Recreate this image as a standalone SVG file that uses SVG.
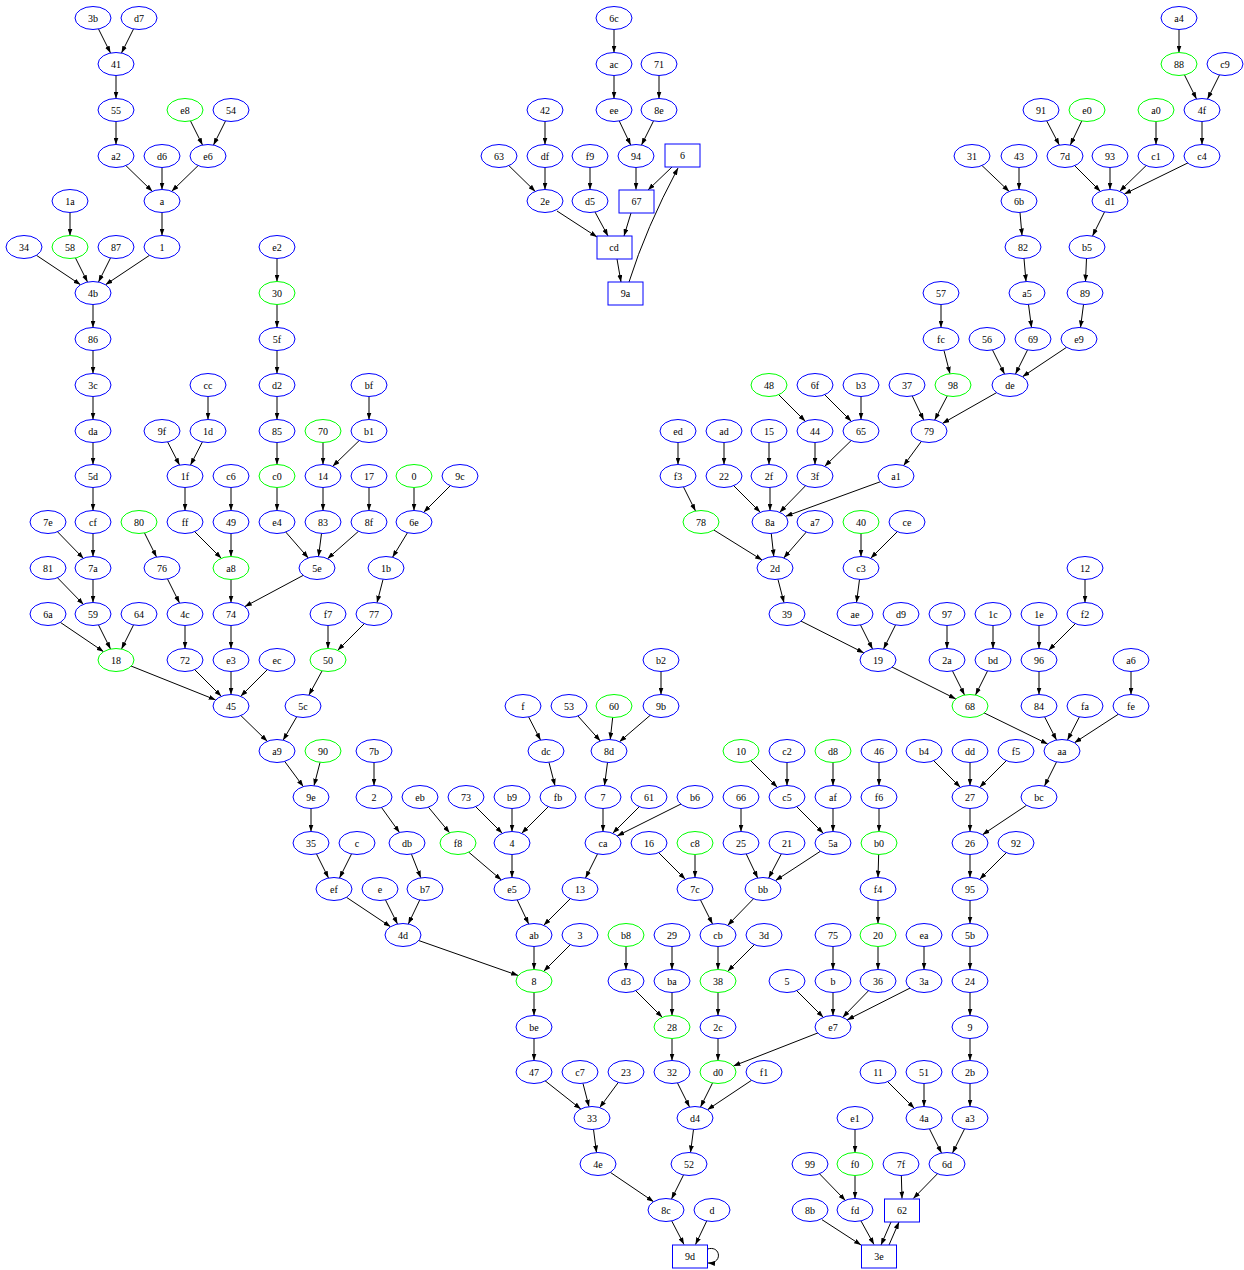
<svg xmlns="http://www.w3.org/2000/svg" width="1244" height="1270" viewBox="0 0 1244 1270">
<style>
.b ellipse,.b rect{fill:#fff;stroke:#0000ff;stroke-width:1}
.g ellipse{fill:#fff;stroke:#00ff00;stroke-width:1}
text{font-family:"Liberation Serif",serif;font-size:10px;text-anchor:middle;fill:#000}
.e path{fill:none;stroke:#000;stroke-width:1;marker-end:url(#ah)}
</style>
<defs>
<marker id="ah" markerUnits="userSpaceOnUse" markerWidth="7" markerHeight="5" viewBox="0 0 7 5" refX="7" refY="2.5" orient="auto"><path d="M0,0 L7,2.5 L0,5 z" fill="#000"/></marker>
</defs>
<rect width="1244" height="1270" fill="#fff"/>
<g id="edges" class="e">
<path d="M93 18 L110.5 53"/><path d="M139 18 L121.5 53"/><path d="M116 64 L116 98.5"/><path d="M116 110 L116 144.5"/>
<path d="M185 110 L202.5 145"/><path d="M231 110 L213.5 145"/><path d="M116 156 L152.3 191.3"/><path d="M162 156 L162 189.5"/>
<path d="M208 156 L171.7 191.3"/><path d="M162 201 L162 235.5"/><path d="M70 201 L70 235.5"/><path d="M24 247 L80.5 284.7"/>
<path d="M70 247 L87.5 282"/><path d="M116 247 L98.5 282"/><path d="M162 247 L105.5 284.7"/><path d="M93 293 L93 327.5"/>
<path d="M93 339 L93 373.5"/><path d="M93 385 L93 419.5"/><path d="M93 431 L93 464.5"/><path d="M93 476 L93 510.5"/>
<path d="M93 522 L93 556.5"/><path d="M48 522 L83.5 558.5"/><path d="M93 568 L93 602.5"/><path d="M48 568 L83.5 604.5"/>
<path d="M48 614 L103.6 651.7"/><path d="M93 614 L110.5 649"/><path d="M139 614 L121.5 649"/><path d="M116 660 L215.7 699.9"/>
<path d="M277 247 L277 281.5"/><path d="M277 293 L277 327.5"/><path d="M277 339 L277 373.5"/><path d="M277 385 L277 419.5"/>
<path d="M277 431 L277 464.5"/><path d="M277 476 L277 510.5"/><path d="M277 522 L308.3 558"/><path d="M208 385 L208 419.5"/>
<path d="M162 431 L179.5 465"/><path d="M208 431 L190.5 465"/><path d="M185 476 L185 510.5"/><path d="M185 522 L221.3 558.3"/>
<path d="M231 476 L231 510.5"/><path d="M231 522 L231 556.5"/><path d="M231 568 L231 602.5"/><path d="M317 568 L244.8 606.6"/>
<path d="M231 614 L231 648.5"/><path d="M231 660 L231 694.5"/><path d="M185 660 L221.3 696.3"/><path d="M277 660 L240.7 696.3"/>
<path d="M139 522 L156.5 557"/><path d="M162 568 L179.5 603"/><path d="M185 614 L185 648.5"/><path d="M369 385 L369 419.5"/>
<path d="M369 431 L332.7 466.3"/><path d="M323 431 L323 464.5"/><path d="M323 476 L323 510.5"/><path d="M323 522 L318.5 556.5"/>
<path d="M369 476 L369 510.5"/><path d="M369 522 L327.5 558.7"/><path d="M414 476 L414 510.5"/><path d="M460 476 L423.7 512.3"/>
<path d="M414 522 L392.5 557.3"/><path d="M386 568 L377 602.7"/><path d="M374 614 L337.7 650.3"/><path d="M328 614 L328 648.5"/>
<path d="M328 660 L308.9 695.1"/><path d="M303 706 L283.1 740.2"/><path d="M231 706 L267.3 741.3"/><path d="M277 751 L303.3 786.6"/>
<path d="M323 751 L314 785.7"/><path d="M311 797 L311 831.5"/><path d="M311 843 L328.5 878"/><path d="M357 843 L339.5 878"/>
<path d="M374 751 L374 785.5"/><path d="M374 797 L399.5 832.6"/><path d="M407 843 L420.8 877.8"/><path d="M334 889 L390.5 926.7"/>
<path d="M380 889 L397.5 924"/><path d="M425 889 L408.3 924"/><path d="M403 935 L518.2 975.5"/><path d="M420 797 L449.6 832.8"/>
<path d="M458 843 L501.3 879.9"/><path d="M466 797 L502.3 833.3"/><path d="M512 797 L512 831.5"/><path d="M558 797 L521.7 833.3"/>
<path d="M523 706 L540.5 740"/><path d="M546 751 L555 785.7"/><path d="M512 843 L512 877.5"/><path d="M512 889 L528.7 924"/>
<path d="M580 889 L543.7 925.3"/><path d="M534 935 L534 969.5"/><path d="M580 935 L543.7 971.3"/><path d="M534 981 L534 1015.5"/>
<path d="M534 1027 L534 1060.5"/><path d="M534 1072 L580.8 1109"/><path d="M580 1072 L589 1106.7"/><path d="M626 1072 L599.7 1107.6"/>
<path d="M592 1118 L596.5 1152.5"/><path d="M598 1164 L653.6 1201.7"/><path d="M569 706 L600.3 741"/><path d="M614 706 L610.2 739.5"/>
<path d="M661 706 L619.5 741.7"/><path d="M661 660 L661 694.5"/><path d="M609 751 L604.5 785.5"/><path d="M603 797 L603 831.5"/>
<path d="M649 797 L612.7 833.3"/><path d="M695 797 L617.2 835.9"/><path d="M603 843 L585.5 878"/>
<path d="M614 18 L614 52.5"/><path d="M614 64 L614 98.5"/><path d="M614 110 L630.7 145"/><path d="M659 64 L659 98.5"/>
<path d="M659 110 L641.5 145"/><path d="M636 156 L636 189.5"/><path d="M672 167 L648 190"/><path d="M631 213 L624 236"/>
<path d="M545 110 L545 144.5"/><path d="M545 156 L545 189.5"/><path d="M499 156 L535.3 191.5"/><path d="M590 156 L590 189.5"/>
<path d="M557 211 L597 237"/><path d="M595 212 L608 236"/><path d="M617 259 L621 282"/><path d="M629 282 Q646 228 678 168"/>
<path d="M1179 18 L1179 52.5"/><path d="M1179 64 L1196.5 99"/><path d="M1225 64 L1207.5 99"/><path d="M1202 110 L1202 144.5"/>
<path d="M1041 110 L1059.3 145"/><path d="M1087 110 L1070.3 145"/><path d="M1156 110 L1156 144.5"/><path d="M1065 156 L1100.4 191.4"/>
<path d="M1110 156 L1110 189.5"/><path d="M1156 156 L1119.7 191.3"/><path d="M1202 156 L1124.3 194"/><path d="M972 156 L1009.2 191.5"/>
<path d="M1019 156 L1019 189.5"/><path d="M1019 201 L1022 235.5"/><path d="M1023 247 L1026 281.5"/><path d="M1027 293 L1031.5 327.5"/>
<path d="M1110 201 L1092.5 236"/><path d="M1087 247 L1085.5 281.5"/><path d="M1085 293 L1080.5 327.5"/><path d="M987 339 L1004.5 374"/>
<path d="M1033 339 L1015.5 374"/><path d="M1079 339 L1022.5 376.7"/><path d="M941 293 L941 327.5"/><path d="M941 339 L950 373.7"/>
<path d="M907 385 L923.7 420"/><path d="M953 385 L934.7 420"/><path d="M1010 385 L942.4 423.4"/><path d="M929 431 L903.6 465.6"/>
<path d="M769 385 L805.3 421.3"/><path d="M815 431 L815 464.5"/><path d="M815 385 L851.3 421.3"/><path d="M861 385 L861 419.5"/>
<path d="M861 431 L824.7 466.3"/><path d="M678 431 L678 464.5"/><path d="M724 431 L724 464.5"/><path d="M769 431 L769 464.5"/>
<path d="M678 476 L695.5 511"/><path d="M724 476 L760.3 512.3"/><path d="M770 476 L770 510.5"/><path d="M815 476 L779.6 512.4"/>
<path d="M896 476 L785.6 516.3"/><path d="M701 522 L762.1 560"/><path d="M770 522 L773.8 556.5"/><path d="M815 522 L783.7 558"/>
<path d="M775 568 L784 602.7"/><path d="M861 522 L861 556.5"/><path d="M907 522 L870.7 558.3"/><path d="M861 568 L856.5 602.5"/>
<path d="M787 614 L863.9 652.9"/><path d="M855 614 L872.5 649"/><path d="M901 614 L883.5 649"/><path d="M878 660 L955.8 698.9"/>
<path d="M947 614 L947 648.5"/><path d="M993 614 L993 648.5"/><path d="M947 660 L964.5 695"/><path d="M993 660 L975.5 695"/>
<path d="M1039 614 L1039 648.5"/><path d="M1085 568 L1085 602.5"/><path d="M1085 614 L1048.7 650.3"/><path d="M1039 660 L1039 694.5"/>
<path d="M1131 660 L1131 694.5"/><path d="M970 706 L1047.7 744"/><path d="M1039 706 L1056.5 740"/><path d="M1085 706 L1067.5 740"/>
<path d="M1131 706 L1074.5 742.7"/><path d="M1062 751 L1044.5 786"/><path d="M924 751 L960.3 787.3"/><path d="M970 751 L970 785.5"/>
<path d="M1016 751 L979.7 787.3"/><path d="M970 797 L970 831.5"/><path d="M1039 797 L982.5 834.7"/><path d="M970 843 L970 877.5"/>
<path d="M1016 843 L979.7 879.3"/><path d="M970 889 L970 923.5"/><path d="M970 935 L970 969.5"/><path d="M970 981 L970 1015.5"/>
<path d="M970 1027 L970 1060.5"/><path d="M970 1072 L970 1106.5"/><path d="M970 1118 L952.5 1153"/><path d="M878 1072 L914.3 1108.3"/>
<path d="M924 1072 L924 1106.5"/><path d="M924 1118 L941.5 1153"/><path d="M947 1164 L913.3 1198.5"/><path d="M901 1164 L902 1198.5"/>
<path d="M855 1118 L855 1152.5"/><path d="M855 1164 L855 1198.5"/><path d="M810 1164 L845.4 1200.5"/><path d="M861 1221 L874 1244.5"/>
<path d="M822 1219.7 L861 1245"/><path d="M891 1222 L881 1245"/><path d="M889 1245 L899 1222"/>
<path d="M741 751 L777.3 787.3"/><path d="M787 751 L787 785.5"/><path d="M787 797 L823.3 833.3"/><path d="M833 751 L833 785.5"/>
<path d="M833 797 L833 831.5"/><path d="M879 751 L879 785.5"/><path d="M879 797 L879 831.5"/><path d="M879 843 L878 877.5"/>
<path d="M878 889 L878 923.5"/><path d="M878 935 L878 969.5"/><path d="M649 843 L685.3 879.3"/><path d="M695 843 L695 877.5"/>
<path d="M741 797 L741 831.5"/><path d="M741 843 L757.7 878"/><path d="M787 843 L768.7 878"/><path d="M833 843 L775.5 880.6"/>
<path d="M695 889 L712.5 924"/><path d="M763 889 L727.6 925.4"/><path d="M718 935 L718 969.5"/><path d="M764 935 L727.7 971.3"/>
<path d="M718 981 L718 1015.5"/><path d="M718 1027 L718 1060.5"/><path d="M626 935 L626 969.5"/><path d="M672 935 L672 969.5"/>
<path d="M626 981 L662.3 1017.3"/><path d="M672 981 L672 1015.5"/><path d="M672 1027 L672 1060.5"/><path d="M833 935 L833 969.5"/>
<path d="M787 981 L823.3 1017.3"/><path d="M833 981 L833 1015.5"/><path d="M878 981 L842.6 1017.4"/><path d="M924 935 L924 969.5"/>
<path d="M924 981 L847.1 1019.9"/><path d="M833 1027 L733.4 1066"/><path d="M672 1072 L689.5 1107"/><path d="M718 1072 L700.5 1107"/>
<path d="M764 1072 L707.5 1109.7"/><path d="M695 1118 L690.5 1152.5"/><path d="M689 1164 L671.5 1199"/><path d="M666 1210 L684 1244.5"/>
<path d="M712 1210 L695.5 1244.5"/><path d="M707.5 1249 C721 1245 723 1264 708 1263"/>
</g>
<g id="nodes">
<g id="n_3b" class="b"><ellipse cx="93" cy="18" rx="18" ry="11.5"/><text x="93" y="21.5">3b</text></g>
<g id="n_d7" class="b"><ellipse cx="139" cy="18" rx="18" ry="11.5"/><text x="139" y="21.5">d7</text></g>
<g id="n_6c" class="b"><ellipse cx="614" cy="18" rx="18" ry="11.5"/><text x="614" y="21.5">6c</text></g>
<g id="n_a4" class="b"><ellipse cx="1179" cy="18" rx="18" ry="11.5"/><text x="1179" y="21.5">a4</text></g>
<g id="n_41" class="b"><ellipse cx="116" cy="64" rx="18" ry="11.5"/><text x="116" y="67.5">41</text></g>
<g id="n_ac" class="b"><ellipse cx="614" cy="64" rx="18" ry="11.5"/><text x="614" y="67.5">ac</text></g>
<g id="n_71" class="b"><ellipse cx="659" cy="64" rx="18" ry="11.5"/><text x="659" y="67.5">71</text></g>
<g id="n_88" class="g"><ellipse cx="1179" cy="64" rx="18" ry="11.5"/><text x="1179" y="67.5">88</text></g>
<g id="n_c9" class="b"><ellipse cx="1225" cy="64" rx="18" ry="11.5"/><text x="1225" y="67.5">c9</text></g>
<g id="n_55" class="b"><ellipse cx="116" cy="110" rx="18" ry="11.5"/><text x="116" y="113.5">55</text></g>
<g id="n_e8" class="g"><ellipse cx="185" cy="110" rx="18" ry="11.5"/><text x="185" y="113.5">e8</text></g>
<g id="n_54" class="b"><ellipse cx="231" cy="110" rx="18" ry="11.5"/><text x="231" y="113.5">54</text></g>
<g id="n_42" class="b"><ellipse cx="545" cy="110" rx="18" ry="11.5"/><text x="545" y="113.5">42</text></g>
<g id="n_ee" class="b"><ellipse cx="614" cy="110" rx="18" ry="11.5"/><text x="614" y="113.5">ee</text></g>
<g id="n_8e" class="b"><ellipse cx="659" cy="110" rx="18" ry="11.5"/><text x="659" y="113.5">8e</text></g>
<g id="n_91" class="b"><ellipse cx="1041" cy="110" rx="18" ry="11.5"/><text x="1041" y="113.5">91</text></g>
<g id="n_e0" class="g"><ellipse cx="1087" cy="110" rx="18" ry="11.5"/><text x="1087" y="113.5">e0</text></g>
<g id="n_a0" class="g"><ellipse cx="1156" cy="110" rx="18" ry="11.5"/><text x="1156" y="113.5">a0</text></g>
<g id="n_4f" class="b"><ellipse cx="1202" cy="110" rx="18" ry="11.5"/><text x="1202" y="113.5">4f</text></g>
<g id="n_a2" class="b"><ellipse cx="116" cy="156" rx="18" ry="11.5"/><text x="116" y="159.5">a2</text></g>
<g id="n_d6" class="b"><ellipse cx="162" cy="156" rx="18" ry="11.5"/><text x="162" y="159.5">d6</text></g>
<g id="n_e6" class="b"><ellipse cx="208" cy="156" rx="18" ry="11.5"/><text x="208" y="159.5">e6</text></g>
<g id="n_63" class="b"><ellipse cx="499" cy="156" rx="18" ry="11.5"/><text x="499" y="159.5">63</text></g>
<g id="n_df" class="b"><ellipse cx="545" cy="156" rx="18" ry="11.5"/><text x="545" y="159.5">df</text></g>
<g id="n_f9" class="b"><ellipse cx="590" cy="156" rx="18" ry="11.5"/><text x="590" y="159.5">f9</text></g>
<g id="n_94" class="b"><ellipse cx="636" cy="156" rx="18" ry="11.5"/><text x="636" y="159.5">94</text></g>
<g id="n_6" class="b"><rect x="665" y="144" width="35" height="23"/><text x="682.5" y="159">6</text></g>
<g id="n_31" class="b"><ellipse cx="972" cy="156" rx="18" ry="11.5"/><text x="972" y="159.5">31</text></g>
<g id="n_43" class="b"><ellipse cx="1019" cy="156" rx="18" ry="11.5"/><text x="1019" y="159.5">43</text></g>
<g id="n_7d" class="b"><ellipse cx="1065" cy="156" rx="18" ry="11.5"/><text x="1065" y="159.5">7d</text></g>
<g id="n_93" class="b"><ellipse cx="1110" cy="156" rx="18" ry="11.5"/><text x="1110" y="159.5">93</text></g>
<g id="n_c1" class="b"><ellipse cx="1156" cy="156" rx="18" ry="11.5"/><text x="1156" y="159.5">c1</text></g>
<g id="n_c4" class="b"><ellipse cx="1202" cy="156" rx="18" ry="11.5"/><text x="1202" y="159.5">c4</text></g>
<g id="n_1a" class="b"><ellipse cx="70" cy="201" rx="18" ry="11.5"/><text x="70" y="204.5">1a</text></g>
<g id="n_a" class="b"><ellipse cx="162" cy="201" rx="18" ry="11.5"/><text x="162" y="204.5">a</text></g>
<g id="n_2e" class="b"><ellipse cx="545" cy="201" rx="18" ry="11.5"/><text x="545" y="204.5">2e</text></g>
<g id="n_d5" class="b"><ellipse cx="590" cy="201" rx="18" ry="11.5"/><text x="590" y="204.5">d5</text></g>
<g id="n_67" class="b"><rect x="619" y="190" width="35" height="23"/><text x="636.5" y="205">67</text></g>
<g id="n_6b" class="b"><ellipse cx="1019" cy="201" rx="18" ry="11.5"/><text x="1019" y="204.5">6b</text></g>
<g id="n_d1" class="b"><ellipse cx="1110" cy="201" rx="18" ry="11.5"/><text x="1110" y="204.5">d1</text></g>
<g id="n_34" class="b"><ellipse cx="24" cy="247" rx="18" ry="11.5"/><text x="24" y="250.5">34</text></g>
<g id="n_58" class="g"><ellipse cx="70" cy="247" rx="18" ry="11.5"/><text x="70" y="250.5">58</text></g>
<g id="n_87" class="b"><ellipse cx="116" cy="247" rx="18" ry="11.5"/><text x="116" y="250.5">87</text></g>
<g id="n_1" class="b"><ellipse cx="162" cy="247" rx="18" ry="11.5"/><text x="162" y="250.5">1</text></g>
<g id="n_e2" class="b"><ellipse cx="277" cy="247" rx="18" ry="11.5"/><text x="277" y="250.5">e2</text></g>
<g id="n_cd" class="b"><rect x="597" y="236" width="35" height="23"/><text x="614" y="251">cd</text></g>
<g id="n_82" class="b"><ellipse cx="1023" cy="247" rx="18" ry="11.5"/><text x="1023" y="250.5">82</text></g>
<g id="n_b5" class="b"><ellipse cx="1087" cy="247" rx="18" ry="11.5"/><text x="1087" y="250.5">b5</text></g>
<g id="n_4b" class="b"><ellipse cx="93" cy="293" rx="18" ry="11.5"/><text x="93" y="296.5">4b</text></g>
<g id="n_30" class="g"><ellipse cx="277" cy="293" rx="18" ry="11.5"/><text x="277" y="296.5">30</text></g>
<g id="n_9a" class="b"><rect x="608" y="282" width="35" height="23"/><text x="625.5" y="297">9a</text></g>
<g id="n_57" class="b"><ellipse cx="941" cy="293" rx="18" ry="11.5"/><text x="941" y="296.5">57</text></g>
<g id="n_a5" class="b"><ellipse cx="1027" cy="293" rx="18" ry="11.5"/><text x="1027" y="296.5">a5</text></g>
<g id="n_89" class="b"><ellipse cx="1085" cy="293" rx="18" ry="11.5"/><text x="1085" y="296.5">89</text></g>
<g id="n_86" class="b"><ellipse cx="93" cy="339" rx="18" ry="11.5"/><text x="93" y="342.5">86</text></g>
<g id="n_5f" class="b"><ellipse cx="277" cy="339" rx="18" ry="11.5"/><text x="277" y="342.5">5f</text></g>
<g id="n_fc" class="b"><ellipse cx="941" cy="339" rx="18" ry="11.5"/><text x="941" y="342.5">fc</text></g>
<g id="n_56" class="b"><ellipse cx="987" cy="339" rx="18" ry="11.5"/><text x="987" y="342.5">56</text></g>
<g id="n_69" class="b"><ellipse cx="1033" cy="339" rx="18" ry="11.5"/><text x="1033" y="342.5">69</text></g>
<g id="n_e9" class="b"><ellipse cx="1079" cy="339" rx="18" ry="11.5"/><text x="1079" y="342.5">e9</text></g>
<g id="n_3c" class="b"><ellipse cx="93" cy="385" rx="18" ry="11.5"/><text x="93" y="388.5">3c</text></g>
<g id="n_cc" class="b"><ellipse cx="208" cy="385" rx="18" ry="11.5"/><text x="208" y="388.5">cc</text></g>
<g id="n_d2" class="b"><ellipse cx="277" cy="385" rx="18" ry="11.5"/><text x="277" y="388.5">d2</text></g>
<g id="n_bf" class="b"><ellipse cx="369" cy="385" rx="18" ry="11.5"/><text x="369" y="388.5">bf</text></g>
<g id="n_48" class="g"><ellipse cx="769" cy="385" rx="18" ry="11.5"/><text x="769" y="388.5">48</text></g>
<g id="n_6f" class="b"><ellipse cx="815" cy="385" rx="18" ry="11.5"/><text x="815" y="388.5">6f</text></g>
<g id="n_b3" class="b"><ellipse cx="861" cy="385" rx="18" ry="11.5"/><text x="861" y="388.5">b3</text></g>
<g id="n_37" class="b"><ellipse cx="907" cy="385" rx="18" ry="11.5"/><text x="907" y="388.5">37</text></g>
<g id="n_98" class="g"><ellipse cx="953" cy="385" rx="18" ry="11.5"/><text x="953" y="388.5">98</text></g>
<g id="n_de" class="b"><ellipse cx="1010" cy="385" rx="18" ry="11.5"/><text x="1010" y="388.5">de</text></g>
<g id="n_da" class="b"><ellipse cx="93" cy="431" rx="18" ry="11.5"/><text x="93" y="434.5">da</text></g>
<g id="n_9f" class="b"><ellipse cx="162" cy="431" rx="18" ry="11.5"/><text x="162" y="434.5">9f</text></g>
<g id="n_1d" class="b"><ellipse cx="208" cy="431" rx="18" ry="11.5"/><text x="208" y="434.5">1d</text></g>
<g id="n_85" class="b"><ellipse cx="277" cy="431" rx="18" ry="11.5"/><text x="277" y="434.5">85</text></g>
<g id="n_70" class="g"><ellipse cx="323" cy="431" rx="18" ry="11.5"/><text x="323" y="434.5">70</text></g>
<g id="n_b1" class="b"><ellipse cx="369" cy="431" rx="18" ry="11.5"/><text x="369" y="434.5">b1</text></g>
<g id="n_ed" class="b"><ellipse cx="678" cy="431" rx="18" ry="11.5"/><text x="678" y="434.5">ed</text></g>
<g id="n_ad" class="b"><ellipse cx="724" cy="431" rx="18" ry="11.5"/><text x="724" y="434.5">ad</text></g>
<g id="n_15" class="b"><ellipse cx="769" cy="431" rx="18" ry="11.5"/><text x="769" y="434.5">15</text></g>
<g id="n_44" class="b"><ellipse cx="815" cy="431" rx="18" ry="11.5"/><text x="815" y="434.5">44</text></g>
<g id="n_65" class="b"><ellipse cx="861" cy="431" rx="18" ry="11.5"/><text x="861" y="434.5">65</text></g>
<g id="n_79" class="b"><ellipse cx="929" cy="431" rx="18" ry="11.5"/><text x="929" y="434.5">79</text></g>
<g id="n_5d" class="b"><ellipse cx="93" cy="476" rx="18" ry="11.5"/><text x="93" y="479.5">5d</text></g>
<g id="n_1f" class="b"><ellipse cx="185" cy="476" rx="18" ry="11.5"/><text x="185" y="479.5">1f</text></g>
<g id="n_c6" class="b"><ellipse cx="231" cy="476" rx="18" ry="11.5"/><text x="231" y="479.5">c6</text></g>
<g id="n_c0" class="g"><ellipse cx="277" cy="476" rx="18" ry="11.5"/><text x="277" y="479.5">c0</text></g>
<g id="n_14" class="b"><ellipse cx="323" cy="476" rx="18" ry="11.5"/><text x="323" y="479.5">14</text></g>
<g id="n_17" class="b"><ellipse cx="369" cy="476" rx="18" ry="11.5"/><text x="369" y="479.5">17</text></g>
<g id="n_0" class="g"><ellipse cx="414" cy="476" rx="18" ry="11.5"/><text x="414" y="479.5">0</text></g>
<g id="n_9c" class="b"><ellipse cx="460" cy="476" rx="18" ry="11.5"/><text x="460" y="479.5">9c</text></g>
<g id="n_f3" class="b"><ellipse cx="678" cy="476" rx="18" ry="11.5"/><text x="678" y="479.5">f3</text></g>
<g id="n_22" class="b"><ellipse cx="724" cy="476" rx="18" ry="11.5"/><text x="724" y="479.5">22</text></g>
<g id="n_2f" class="b"><ellipse cx="769" cy="476" rx="18" ry="11.5"/><text x="769" y="479.5">2f</text></g>
<g id="n_3f" class="b"><ellipse cx="815" cy="476" rx="18" ry="11.5"/><text x="815" y="479.5">3f</text></g>
<g id="n_a1" class="b"><ellipse cx="896" cy="476" rx="18" ry="11.5"/><text x="896" y="479.5">a1</text></g>
<g id="n_7e" class="b"><ellipse cx="48" cy="522" rx="18" ry="11.5"/><text x="48" y="525.5">7e</text></g>
<g id="n_cf" class="b"><ellipse cx="93" cy="522" rx="18" ry="11.5"/><text x="93" y="525.5">cf</text></g>
<g id="n_80" class="g"><ellipse cx="139" cy="522" rx="18" ry="11.5"/><text x="139" y="525.5">80</text></g>
<g id="n_ff" class="b"><ellipse cx="185" cy="522" rx="18" ry="11.5"/><text x="185" y="525.5">ff</text></g>
<g id="n_49" class="b"><ellipse cx="231" cy="522" rx="18" ry="11.5"/><text x="231" y="525.5">49</text></g>
<g id="n_e4" class="b"><ellipse cx="277" cy="522" rx="18" ry="11.5"/><text x="277" y="525.5">e4</text></g>
<g id="n_83" class="b"><ellipse cx="323" cy="522" rx="18" ry="11.5"/><text x="323" y="525.5">83</text></g>
<g id="n_8f" class="b"><ellipse cx="369" cy="522" rx="18" ry="11.5"/><text x="369" y="525.5">8f</text></g>
<g id="n_6e" class="b"><ellipse cx="414" cy="522" rx="18" ry="11.5"/><text x="414" y="525.5">6e</text></g>
<g id="n_78" class="g"><ellipse cx="701" cy="522" rx="18" ry="11.5"/><text x="701" y="525.5">78</text></g>
<g id="n_8a" class="b"><ellipse cx="770" cy="522" rx="18" ry="11.5"/><text x="770" y="525.5">8a</text></g>
<g id="n_a7" class="b"><ellipse cx="815" cy="522" rx="18" ry="11.5"/><text x="815" y="525.5">a7</text></g>
<g id="n_40" class="g"><ellipse cx="861" cy="522" rx="18" ry="11.5"/><text x="861" y="525.5">40</text></g>
<g id="n_ce" class="b"><ellipse cx="907" cy="522" rx="18" ry="11.5"/><text x="907" y="525.5">ce</text></g>
<g id="n_81" class="b"><ellipse cx="48" cy="568" rx="18" ry="11.5"/><text x="48" y="571.5">81</text></g>
<g id="n_7a" class="b"><ellipse cx="93" cy="568" rx="18" ry="11.5"/><text x="93" y="571.5">7a</text></g>
<g id="n_76" class="b"><ellipse cx="162" cy="568" rx="18" ry="11.5"/><text x="162" y="571.5">76</text></g>
<g id="n_a8" class="g"><ellipse cx="231" cy="568" rx="18" ry="11.5"/><text x="231" y="571.5">a8</text></g>
<g id="n_5e" class="b"><ellipse cx="317" cy="568" rx="18" ry="11.5"/><text x="317" y="571.5">5e</text></g>
<g id="n_1b" class="b"><ellipse cx="386" cy="568" rx="18" ry="11.5"/><text x="386" y="571.5">1b</text></g>
<g id="n_2d" class="b"><ellipse cx="775" cy="568" rx="18" ry="11.5"/><text x="775" y="571.5">2d</text></g>
<g id="n_c3" class="b"><ellipse cx="861" cy="568" rx="18" ry="11.5"/><text x="861" y="571.5">c3</text></g>
<g id="n_12" class="b"><ellipse cx="1085" cy="568" rx="18" ry="11.5"/><text x="1085" y="571.5">12</text></g>
<g id="n_6a" class="b"><ellipse cx="48" cy="614" rx="18" ry="11.5"/><text x="48" y="617.5">6a</text></g>
<g id="n_59" class="b"><ellipse cx="93" cy="614" rx="18" ry="11.5"/><text x="93" y="617.5">59</text></g>
<g id="n_64" class="b"><ellipse cx="139" cy="614" rx="18" ry="11.5"/><text x="139" y="617.5">64</text></g>
<g id="n_4c" class="b"><ellipse cx="185" cy="614" rx="18" ry="11.5"/><text x="185" y="617.5">4c</text></g>
<g id="n_74" class="b"><ellipse cx="231" cy="614" rx="18" ry="11.5"/><text x="231" y="617.5">74</text></g>
<g id="n_f7" class="b"><ellipse cx="328" cy="614" rx="18" ry="11.5"/><text x="328" y="617.5">f7</text></g>
<g id="n_77" class="b"><ellipse cx="374" cy="614" rx="18" ry="11.5"/><text x="374" y="617.5">77</text></g>
<g id="n_39" class="b"><ellipse cx="787" cy="614" rx="18" ry="11.5"/><text x="787" y="617.5">39</text></g>
<g id="n_ae" class="b"><ellipse cx="855" cy="614" rx="18" ry="11.5"/><text x="855" y="617.5">ae</text></g>
<g id="n_d9" class="b"><ellipse cx="901" cy="614" rx="18" ry="11.5"/><text x="901" y="617.5">d9</text></g>
<g id="n_97" class="b"><ellipse cx="947" cy="614" rx="18" ry="11.5"/><text x="947" y="617.5">97</text></g>
<g id="n_1c" class="b"><ellipse cx="993" cy="614" rx="18" ry="11.5"/><text x="993" y="617.5">1c</text></g>
<g id="n_1e" class="b"><ellipse cx="1039" cy="614" rx="18" ry="11.5"/><text x="1039" y="617.5">1e</text></g>
<g id="n_f2" class="b"><ellipse cx="1085" cy="614" rx="18" ry="11.5"/><text x="1085" y="617.5">f2</text></g>
<g id="n_18" class="g"><ellipse cx="116" cy="660" rx="18" ry="11.5"/><text x="116" y="663.5">18</text></g>
<g id="n_72" class="b"><ellipse cx="185" cy="660" rx="18" ry="11.5"/><text x="185" y="663.5">72</text></g>
<g id="n_e3" class="b"><ellipse cx="231" cy="660" rx="18" ry="11.5"/><text x="231" y="663.5">e3</text></g>
<g id="n_ec" class="b"><ellipse cx="277" cy="660" rx="18" ry="11.5"/><text x="277" y="663.5">ec</text></g>
<g id="n_50" class="g"><ellipse cx="328" cy="660" rx="18" ry="11.5"/><text x="328" y="663.5">50</text></g>
<g id="n_b2" class="b"><ellipse cx="661" cy="660" rx="18" ry="11.5"/><text x="661" y="663.5">b2</text></g>
<g id="n_19" class="b"><ellipse cx="878" cy="660" rx="18" ry="11.5"/><text x="878" y="663.5">19</text></g>
<g id="n_2a" class="b"><ellipse cx="947" cy="660" rx="18" ry="11.5"/><text x="947" y="663.5">2a</text></g>
<g id="n_bd" class="b"><ellipse cx="993" cy="660" rx="18" ry="11.5"/><text x="993" y="663.5">bd</text></g>
<g id="n_96" class="b"><ellipse cx="1039" cy="660" rx="18" ry="11.5"/><text x="1039" y="663.5">96</text></g>
<g id="n_a6" class="b"><ellipse cx="1131" cy="660" rx="18" ry="11.5"/><text x="1131" y="663.5">a6</text></g>
<g id="n_45" class="b"><ellipse cx="231" cy="706" rx="18" ry="11.5"/><text x="231" y="709.5">45</text></g>
<g id="n_5c" class="b"><ellipse cx="303" cy="706" rx="18" ry="11.5"/><text x="303" y="709.5">5c</text></g>
<g id="n_f" class="b"><ellipse cx="523" cy="706" rx="18" ry="11.5"/><text x="523" y="709.5">f</text></g>
<g id="n_53" class="b"><ellipse cx="569" cy="706" rx="18" ry="11.5"/><text x="569" y="709.5">53</text></g>
<g id="n_60" class="g"><ellipse cx="614" cy="706" rx="18" ry="11.5"/><text x="614" y="709.5">60</text></g>
<g id="n_9b" class="b"><ellipse cx="661" cy="706" rx="18" ry="11.5"/><text x="661" y="709.5">9b</text></g>
<g id="n_68" class="g"><ellipse cx="970" cy="706" rx="18" ry="11.5"/><text x="970" y="709.5">68</text></g>
<g id="n_84" class="b"><ellipse cx="1039" cy="706" rx="18" ry="11.5"/><text x="1039" y="709.5">84</text></g>
<g id="n_fa" class="b"><ellipse cx="1085" cy="706" rx="18" ry="11.5"/><text x="1085" y="709.5">fa</text></g>
<g id="n_fe" class="b"><ellipse cx="1131" cy="706" rx="18" ry="11.5"/><text x="1131" y="709.5">fe</text></g>
<g id="n_a9" class="b"><ellipse cx="277" cy="751" rx="18" ry="11.5"/><text x="277" y="754.5">a9</text></g>
<g id="n_90" class="g"><ellipse cx="323" cy="751" rx="18" ry="11.5"/><text x="323" y="754.5">90</text></g>
<g id="n_7b" class="b"><ellipse cx="374" cy="751" rx="18" ry="11.5"/><text x="374" y="754.5">7b</text></g>
<g id="n_dc" class="b"><ellipse cx="546" cy="751" rx="18" ry="11.5"/><text x="546" y="754.5">dc</text></g>
<g id="n_8d" class="b"><ellipse cx="609" cy="751" rx="18" ry="11.5"/><text x="609" y="754.5">8d</text></g>
<g id="n_10" class="g"><ellipse cx="741" cy="751" rx="18" ry="11.5"/><text x="741" y="754.5">10</text></g>
<g id="n_c2" class="b"><ellipse cx="787" cy="751" rx="18" ry="11.5"/><text x="787" y="754.5">c2</text></g>
<g id="n_d8" class="g"><ellipse cx="833" cy="751" rx="18" ry="11.5"/><text x="833" y="754.5">d8</text></g>
<g id="n_46" class="b"><ellipse cx="879" cy="751" rx="18" ry="11.5"/><text x="879" y="754.5">46</text></g>
<g id="n_b4" class="b"><ellipse cx="924" cy="751" rx="18" ry="11.5"/><text x="924" y="754.5">b4</text></g>
<g id="n_dd" class="b"><ellipse cx="970" cy="751" rx="18" ry="11.5"/><text x="970" y="754.5">dd</text></g>
<g id="n_f5" class="b"><ellipse cx="1016" cy="751" rx="18" ry="11.5"/><text x="1016" y="754.5">f5</text></g>
<g id="n_aa" class="b"><ellipse cx="1062" cy="751" rx="18" ry="11.5"/><text x="1062" y="754.5">aa</text></g>
<g id="n_9e" class="b"><ellipse cx="311" cy="797" rx="18" ry="11.5"/><text x="311" y="800.5">9e</text></g>
<g id="n_2" class="b"><ellipse cx="374" cy="797" rx="18" ry="11.5"/><text x="374" y="800.5">2</text></g>
<g id="n_eb" class="b"><ellipse cx="420" cy="797" rx="18" ry="11.5"/><text x="420" y="800.5">eb</text></g>
<g id="n_73" class="b"><ellipse cx="466" cy="797" rx="18" ry="11.5"/><text x="466" y="800.5">73</text></g>
<g id="n_b9" class="b"><ellipse cx="512" cy="797" rx="18" ry="11.5"/><text x="512" y="800.5">b9</text></g>
<g id="n_fb" class="b"><ellipse cx="558" cy="797" rx="18" ry="11.5"/><text x="558" y="800.5">fb</text></g>
<g id="n_7" class="b"><ellipse cx="603" cy="797" rx="18" ry="11.5"/><text x="603" y="800.5">7</text></g>
<g id="n_61" class="b"><ellipse cx="649" cy="797" rx="18" ry="11.5"/><text x="649" y="800.5">61</text></g>
<g id="n_b6" class="b"><ellipse cx="695" cy="797" rx="18" ry="11.5"/><text x="695" y="800.5">b6</text></g>
<g id="n_66" class="b"><ellipse cx="741" cy="797" rx="18" ry="11.5"/><text x="741" y="800.5">66</text></g>
<g id="n_c5" class="b"><ellipse cx="787" cy="797" rx="18" ry="11.5"/><text x="787" y="800.5">c5</text></g>
<g id="n_af" class="b"><ellipse cx="833" cy="797" rx="18" ry="11.5"/><text x="833" y="800.5">af</text></g>
<g id="n_f6" class="b"><ellipse cx="879" cy="797" rx="18" ry="11.5"/><text x="879" y="800.5">f6</text></g>
<g id="n_27" class="b"><ellipse cx="970" cy="797" rx="18" ry="11.5"/><text x="970" y="800.5">27</text></g>
<g id="n_bc" class="b"><ellipse cx="1039" cy="797" rx="18" ry="11.5"/><text x="1039" y="800.5">bc</text></g>
<g id="n_35" class="b"><ellipse cx="311" cy="843" rx="18" ry="11.5"/><text x="311" y="846.5">35</text></g>
<g id="n_c" class="b"><ellipse cx="357" cy="843" rx="18" ry="11.5"/><text x="357" y="846.5">c</text></g>
<g id="n_db" class="b"><ellipse cx="407" cy="843" rx="18" ry="11.5"/><text x="407" y="846.5">db</text></g>
<g id="n_f8" class="g"><ellipse cx="458" cy="843" rx="18" ry="11.5"/><text x="458" y="846.5">f8</text></g>
<g id="n_4" class="b"><ellipse cx="512" cy="843" rx="18" ry="11.5"/><text x="512" y="846.5">4</text></g>
<g id="n_ca" class="b"><ellipse cx="603" cy="843" rx="18" ry="11.5"/><text x="603" y="846.5">ca</text></g>
<g id="n_16" class="b"><ellipse cx="649" cy="843" rx="18" ry="11.5"/><text x="649" y="846.5">16</text></g>
<g id="n_c8" class="g"><ellipse cx="695" cy="843" rx="18" ry="11.5"/><text x="695" y="846.5">c8</text></g>
<g id="n_25" class="b"><ellipse cx="741" cy="843" rx="18" ry="11.5"/><text x="741" y="846.5">25</text></g>
<g id="n_21" class="b"><ellipse cx="787" cy="843" rx="18" ry="11.5"/><text x="787" y="846.5">21</text></g>
<g id="n_5a" class="b"><ellipse cx="833" cy="843" rx="18" ry="11.5"/><text x="833" y="846.5">5a</text></g>
<g id="n_b0" class="g"><ellipse cx="879" cy="843" rx="18" ry="11.5"/><text x="879" y="846.5">b0</text></g>
<g id="n_26" class="b"><ellipse cx="970" cy="843" rx="18" ry="11.5"/><text x="970" y="846.5">26</text></g>
<g id="n_92" class="b"><ellipse cx="1016" cy="843" rx="18" ry="11.5"/><text x="1016" y="846.5">92</text></g>
<g id="n_ef" class="b"><ellipse cx="334" cy="889" rx="18" ry="11.5"/><text x="334" y="892.5">ef</text></g>
<g id="n_e" class="b"><ellipse cx="380" cy="889" rx="18" ry="11.5"/><text x="380" y="892.5">e</text></g>
<g id="n_b7" class="b"><ellipse cx="425" cy="889" rx="18" ry="11.5"/><text x="425" y="892.5">b7</text></g>
<g id="n_e5" class="b"><ellipse cx="512" cy="889" rx="18" ry="11.5"/><text x="512" y="892.5">e5</text></g>
<g id="n_13" class="b"><ellipse cx="580" cy="889" rx="18" ry="11.5"/><text x="580" y="892.5">13</text></g>
<g id="n_7c" class="b"><ellipse cx="695" cy="889" rx="18" ry="11.5"/><text x="695" y="892.5">7c</text></g>
<g id="n_bb" class="b"><ellipse cx="763" cy="889" rx="18" ry="11.5"/><text x="763" y="892.5">bb</text></g>
<g id="n_f4" class="b"><ellipse cx="878" cy="889" rx="18" ry="11.5"/><text x="878" y="892.5">f4</text></g>
<g id="n_95" class="b"><ellipse cx="970" cy="889" rx="18" ry="11.5"/><text x="970" y="892.5">95</text></g>
<g id="n_4d" class="b"><ellipse cx="403" cy="935" rx="18" ry="11.5"/><text x="403" y="938.5">4d</text></g>
<g id="n_ab" class="b"><ellipse cx="534" cy="935" rx="18" ry="11.5"/><text x="534" y="938.5">ab</text></g>
<g id="n_3" class="b"><ellipse cx="580" cy="935" rx="18" ry="11.5"/><text x="580" y="938.5">3</text></g>
<g id="n_b8" class="g"><ellipse cx="626" cy="935" rx="18" ry="11.5"/><text x="626" y="938.5">b8</text></g>
<g id="n_29" class="b"><ellipse cx="672" cy="935" rx="18" ry="11.5"/><text x="672" y="938.5">29</text></g>
<g id="n_cb" class="b"><ellipse cx="718" cy="935" rx="18" ry="11.5"/><text x="718" y="938.5">cb</text></g>
<g id="n_3d" class="b"><ellipse cx="764" cy="935" rx="18" ry="11.5"/><text x="764" y="938.5">3d</text></g>
<g id="n_75" class="b"><ellipse cx="833" cy="935" rx="18" ry="11.5"/><text x="833" y="938.5">75</text></g>
<g id="n_20" class="g"><ellipse cx="878" cy="935" rx="18" ry="11.5"/><text x="878" y="938.5">20</text></g>
<g id="n_ea" class="b"><ellipse cx="924" cy="935" rx="18" ry="11.5"/><text x="924" y="938.5">ea</text></g>
<g id="n_5b" class="b"><ellipse cx="970" cy="935" rx="18" ry="11.5"/><text x="970" y="938.5">5b</text></g>
<g id="n_8" class="g"><ellipse cx="534" cy="981" rx="18" ry="11.5"/><text x="534" y="984.5">8</text></g>
<g id="n_d3" class="b"><ellipse cx="626" cy="981" rx="18" ry="11.5"/><text x="626" y="984.5">d3</text></g>
<g id="n_ba" class="b"><ellipse cx="672" cy="981" rx="18" ry="11.5"/><text x="672" y="984.5">ba</text></g>
<g id="n_38" class="g"><ellipse cx="718" cy="981" rx="18" ry="11.5"/><text x="718" y="984.5">38</text></g>
<g id="n_5" class="b"><ellipse cx="787" cy="981" rx="18" ry="11.5"/><text x="787" y="984.5">5</text></g>
<g id="n_b" class="b"><ellipse cx="833" cy="981" rx="18" ry="11.5"/><text x="833" y="984.5">b</text></g>
<g id="n_36" class="b"><ellipse cx="878" cy="981" rx="18" ry="11.5"/><text x="878" y="984.5">36</text></g>
<g id="n_3a" class="b"><ellipse cx="924" cy="981" rx="18" ry="11.5"/><text x="924" y="984.5">3a</text></g>
<g id="n_24" class="b"><ellipse cx="970" cy="981" rx="18" ry="11.5"/><text x="970" y="984.5">24</text></g>
<g id="n_be" class="b"><ellipse cx="534" cy="1027" rx="18" ry="11.5"/><text x="534" y="1030.5">be</text></g>
<g id="n_28" class="g"><ellipse cx="672" cy="1027" rx="18" ry="11.5"/><text x="672" y="1030.5">28</text></g>
<g id="n_2c" class="b"><ellipse cx="718" cy="1027" rx="18" ry="11.5"/><text x="718" y="1030.5">2c</text></g>
<g id="n_e7" class="b"><ellipse cx="833" cy="1027" rx="18" ry="11.5"/><text x="833" y="1030.5">e7</text></g>
<g id="n_9" class="b"><ellipse cx="970" cy="1027" rx="18" ry="11.5"/><text x="970" y="1030.5">9</text></g>
<g id="n_47" class="b"><ellipse cx="534" cy="1072" rx="18" ry="11.5"/><text x="534" y="1075.5">47</text></g>
<g id="n_c7" class="b"><ellipse cx="580" cy="1072" rx="18" ry="11.5"/><text x="580" y="1075.5">c7</text></g>
<g id="n_23" class="b"><ellipse cx="626" cy="1072" rx="18" ry="11.5"/><text x="626" y="1075.5">23</text></g>
<g id="n_32" class="b"><ellipse cx="672" cy="1072" rx="18" ry="11.5"/><text x="672" y="1075.5">32</text></g>
<g id="n_d0" class="g"><ellipse cx="718" cy="1072" rx="18" ry="11.5"/><text x="718" y="1075.5">d0</text></g>
<g id="n_f1" class="b"><ellipse cx="764" cy="1072" rx="18" ry="11.5"/><text x="764" y="1075.5">f1</text></g>
<g id="n_11" class="b"><ellipse cx="878" cy="1072" rx="18" ry="11.5"/><text x="878" y="1075.5">11</text></g>
<g id="n_51" class="b"><ellipse cx="924" cy="1072" rx="18" ry="11.5"/><text x="924" y="1075.5">51</text></g>
<g id="n_2b" class="b"><ellipse cx="970" cy="1072" rx="18" ry="11.5"/><text x="970" y="1075.5">2b</text></g>
<g id="n_33" class="b"><ellipse cx="592" cy="1118" rx="18" ry="11.5"/><text x="592" y="1121.5">33</text></g>
<g id="n_d4" class="b"><ellipse cx="695" cy="1118" rx="18" ry="11.5"/><text x="695" y="1121.5">d4</text></g>
<g id="n_e1" class="b"><ellipse cx="855" cy="1118" rx="18" ry="11.5"/><text x="855" y="1121.5">e1</text></g>
<g id="n_4a" class="b"><ellipse cx="924" cy="1118" rx="18" ry="11.5"/><text x="924" y="1121.5">4a</text></g>
<g id="n_a3" class="b"><ellipse cx="970" cy="1118" rx="18" ry="11.5"/><text x="970" y="1121.5">a3</text></g>
<g id="n_4e" class="b"><ellipse cx="598" cy="1164" rx="18" ry="11.5"/><text x="598" y="1167.5">4e</text></g>
<g id="n_52" class="b"><ellipse cx="689" cy="1164" rx="18" ry="11.5"/><text x="689" y="1167.5">52</text></g>
<g id="n_99" class="b"><ellipse cx="810" cy="1164" rx="18" ry="11.5"/><text x="810" y="1167.5">99</text></g>
<g id="n_f0" class="g"><ellipse cx="855" cy="1164" rx="18" ry="11.5"/><text x="855" y="1167.5">f0</text></g>
<g id="n_7f" class="b"><ellipse cx="901" cy="1164" rx="18" ry="11.5"/><text x="901" y="1167.5">7f</text></g>
<g id="n_6d" class="b"><ellipse cx="947" cy="1164" rx="18" ry="11.5"/><text x="947" y="1167.5">6d</text></g>
<g id="n_8c" class="b"><ellipse cx="666" cy="1210" rx="18" ry="11.5"/><text x="666" y="1213.5">8c</text></g>
<g id="n_d" class="b"><ellipse cx="712" cy="1210" rx="18" ry="11.5"/><text x="712" y="1213.5">d</text></g>
<g id="n_8b" class="b"><ellipse cx="810" cy="1210" rx="18" ry="11.5"/><text x="810" y="1213.5">8b</text></g>
<g id="n_fd" class="b"><ellipse cx="855" cy="1210" rx="18" ry="11.5"/><text x="855" y="1213.5">fd</text></g>
<g id="n_62" class="b"><rect x="884.5" y="1199" width="35" height="23"/><text x="902" y="1214">62</text></g>
<g id="n_9d" class="b"><rect x="672.5" y="1245" width="35" height="23"/><text x="690" y="1260">9d</text></g>
<g id="n_3e" class="b"><rect x="861.5" y="1245" width="35" height="23"/><text x="879" y="1260">3e</text></g>
</g>
</svg>
